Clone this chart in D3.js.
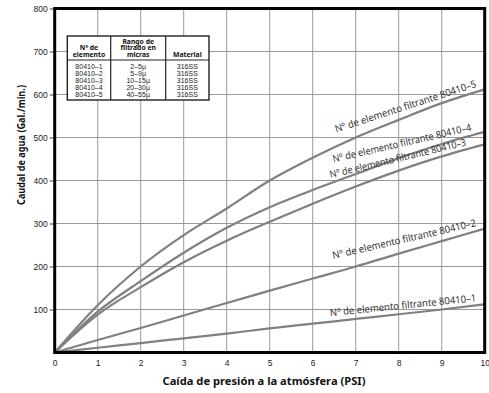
<!DOCTYPE html>
<html>
<head>
<meta charset="utf-8">
<script src="https://cdn.jsdelivr.net/npm/d3@7"></script>
<style>
  body { margin: 0; background: #fff; }
  .tick text { font-family: "Liberation Sans", Arial, sans-serif; font-size: 8.5px; fill: #222; }
  .title { font-family: "Noto Sans", "Open Sans", sans-serif; font-weight: bold; font-size: 10.5px; fill: #111; }
  .curveLabel { font-family: "Noto Sans", "Open Sans", sans-serif; font-size: 10px; fill: #333; }
  .tbl { font-family: "Liberation Sans", Arial, sans-serif; font-size: 7px; fill: #222; }
  .tblHead { font-family: "Noto Sans", sans-serif; font-size: 6.8px; font-weight: bold; fill: #111; }
</style>
</head>
<body>
<div id="chart"></div>
<script>
// data
var pressure = [0, 1, 2, 3, 4, 5, 6, 7, 8, 9, 10];
var flow5 = [0, 110, 200, 273, 335, 400, 453, 500, 541, 580, 612];
var flow4 = [0, 95, 166, 232, 290, 338, 378, 415, 452, 485, 513];
var flow3 = [0, 88, 152, 210, 260, 304, 346, 386, 423, 456, 484];
var flow2 = [0, 29, 57, 86, 115, 144, 172, 200, 230, 259, 288];
var flow1 = [0, 11, 22, 33, 44, 56, 67, 78, 89, 100, 112];

var curveNames = ["Nº de elemento filtrante 80410–5", "Nº de elemento filtrante 80410–4",
  "Nº de elemento filtrante 80410–3", "Nº de elemento filtrante 80410–2", "Nº de elemento filtrante 80410–1"];

var xTicks = [0, 1, 2, 3, 4, 5, 6, 7, 8, 9, 10];
var yTicks = [100, 200, 300, 400, 500, 600, 700, 800];

var elementos = ["80410–1", "80410–2", "80410–3", "80410–4", "80410–5"];
var rangos = ["2–5µ", "5–9µ", "10–15µ", "20–30µ", "40–55µ"];
var materiales = ["316SS", "316SS", "316SS", "316SS", "316SS"];

// label placement along each curve (end x in PSI, lift in px, angle in deg)
var labelPlace = [
  {x: 9.82, lift: 5, ang: 18, len: 148},
  {x: 9.7, lift: 5, ang: 13, len: 142},
  {x: 9.58, lift: 4, ang: 13.5, len: 140},
  {x: 9.81, lift: 5, ang: 13, len: 147},
  {x: 9.81, lift: 4, ang: 5.8, len: 147}
];

function drawChart() {
  var width = 489, height = 393;
  var mLeft = 54.7, mRight = 484.7, mTop = 8.5, mBottom = 352.5;

  var svg = d3.select('#chart').append('svg')
    .attr('width', width)
    .attr('height', height);

  var xScale = d3.scaleLinear().domain([0, 10]).range([mLeft, mRight]);
  var yScale = d3.scaleLinear().domain([0, 800]).range([mBottom, mTop]);

  // grid
  svg.append('g').selectAll('line')
    .data(xTicks.slice(1, 10))
    .enter().append('line')
    .attr('x1', function(d) { return xScale(d); })
    .attr('x2', function(d) { return xScale(d); })
    .attr('y1', mTop).attr('y2', mBottom)
    .attr('stroke', '#9a9a9a').attr('stroke-width', 1);

  svg.append('g').selectAll('line')
    .data(yTicks.slice(0, 7))
    .enter().append('line')
    .attr('y1', function(d) { return yScale(d); })
    .attr('y2', function(d) { return yScale(d); })
    .attr('x1', mLeft).attr('x2', mRight)
    .attr('stroke', '#9a9a9a').attr('stroke-width', 1);

  // axes
  var yAxis = svg.append('g')
    .attr('transform', 'translate(' + mLeft + ',0)')
    .call(d3.axisLeft(yScale).tickValues(yTicks).tickSize(5).tickPadding(2));
  yAxis.select('.domain').remove();
  yAxis.selectAll('.tick line').attr('stroke', '#444');

  var xAxis = svg.append('g')
    .attr('transform', 'translate(0,' + mBottom + ')')
    .call(d3.axisBottom(xScale).tickValues(xTicks).tickSize(0).tickPadding(7));
  xAxis.select('.domain').remove();

  svg.append('text')
    .attr('class', 'title')
    .attr('text-anchor', 'middle')
    .attr('x', 264).attr('y', 385)
    .attr('textLength', 203).attr('lengthAdjust', 'spacingAndGlyphs')
    .text('Caída de presión a la atmósfera (PSI)');

  svg.append('text')
    .attr('class', 'title')
    .attr('text-anchor', 'middle')
    .attr('transform', 'translate(25,145) rotate(-90)')
    .attr('textLength', 120).attr('lengthAdjust', 'spacingAndGlyphs')
    .text('Caudal de agua (Gal./min.)');

  // curves
  var series = [flow5, flow4, flow3, flow2, flow1];

  var line = d3.line()
    .x(function(d, i) { return xScale(pressure[i]); })
    .y(function(d) { return yScale(d); })
    .curve(d3.curveMonotoneX);

  svg.append('g').selectAll('path')
    .data(series)
    .enter().append('path')
    .attr('d', line)
    .attr('fill', 'none')
    .attr('stroke', '#808080')
    .attr('stroke-width', 2.2);

  function valueAt(values, x) {
    var i = Math.min(Math.floor(x), pressure.length - 2);
    var t = x - pressure[i];
    return values[i] + (values[i + 1] - values[i]) * t;
  }

  svg.append('g').selectAll('text')
    .data(series)
    .enter().append('text')
    .attr('class', 'curveLabel')
    .attr('text-anchor', 'end')
    .attr('textLength', function(d, i) { return labelPlace[i].len; })
    .attr('lengthAdjust', 'spacingAndGlyphs')
    .attr('transform', function(d, i) {
      var p = labelPlace[i];
      var px = xScale(p.x), py = yScale(valueAt(d, p.x)) - p.lift;
      return 'translate(' + px + ',' + py + ') rotate(' + (-p.ang) + ')';
    })
    .text(function(d, i) { return curveNames[i]; });

  // plot frame
  svg.append('rect')
    .attr('x', mLeft).attr('y', mTop)
    .attr('width', mRight - mLeft).attr('height', mBottom - mTop)
    .attr('fill', 'none').attr('stroke', '#000').attr('stroke-width', 3);

  // element table
  var tx = 67.3, ty = 36, colX = [67.3, 110.7, 165.7, 209], tw = 209 - 67.3, th = 64, headH = 24;
  var tbl = svg.append('g');

  tbl.append('rect')
    .attr('x', tx).attr('y', ty).attr('width', tw).attr('height', th)
    .attr('fill', '#fff').attr('stroke', '#222').attr('stroke-width', 1.4);
  tbl.append('line')
    .attr('x1', tx).attr('x2', tx + tw).attr('y1', ty + headH).attr('y2', ty + headH)
    .attr('stroke', '#222').attr('stroke-width', 1.2);
  tbl.selectAll('line.col')
    .data([colX[1], colX[2]])
    .enter().append('line')
    .attr('x1', function(d) { return d; }).attr('x2', function(d) { return d; })
    .attr('y1', ty).attr('y2', ty + th)
    .attr('stroke', '#222').attr('stroke-width', 1.2);

  var heads = [["Nº de", "elemento"], ["Rango de", "filtrado en", "micras"], ["Material"]];
  heads.forEach(function(lines, c) {
    var cx = (colX[c] + colX[c + 1]) / 2;
    var n = lines.length;
    lines.forEach(function(s, k) {
      tbl.append('text')
        .attr('class', 'tblHead')
        .attr('text-anchor', 'middle')
        .attr('x', cx)
        .attr('y', ty + headH - 3.5 - (n - 1 - k) * 6.4)
        .text(s);
    });
  });

  var cols = [elementos, rangos, materiales];
  cols.forEach(function(vals, c) {
    var cx = (colX[c] + colX[c + 1]) / 2;
    tbl.append('g').selectAll('text')
      .data(vals)
      .enter().append('text')
      .attr('class', 'tbl')
      .attr('text-anchor', 'middle')
      .attr('x', cx)
      .attr('y', function(d, i) { return ty + headH + 9 + i * 7; })
      .text(function(d) { return d; });
  });
}

drawChart();
</script>
</body>
</html>
